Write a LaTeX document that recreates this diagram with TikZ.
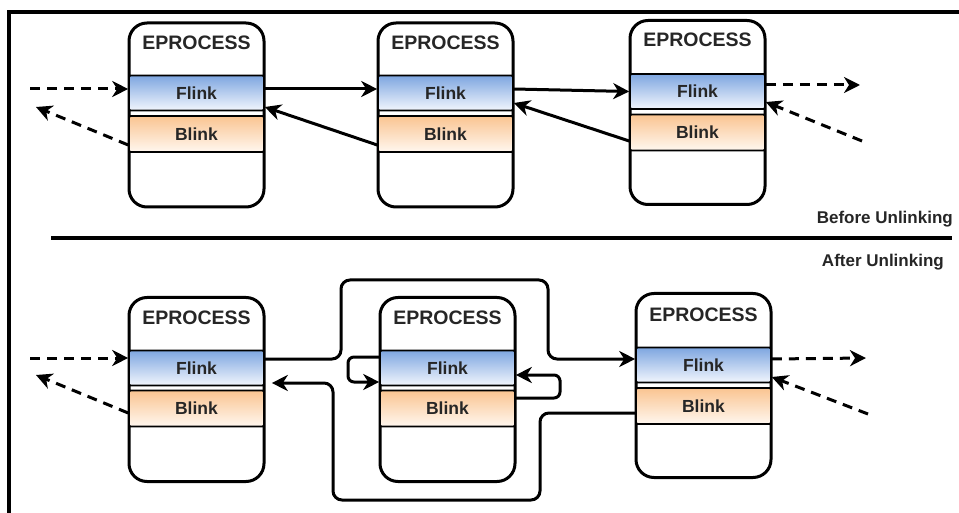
\documentclass[tikz,border=0pt]{standalone}
\usepackage{fontspec}
\setmainfont{Liberation Sans}
\usetikzlibrary{arrows.meta,calc}
\definecolor{txt}{HTML}{262626}
\definecolor{blueTop}{HTML}{7EA6E0}
\definecolor{blueBot}{HTML}{F2F6FD}
\definecolor{orTop}{HTML}{FAC491}
\definecolor{orBot}{HTML}{FFF7EF}
\tikzset{
  procbox/.style={draw, line width=3pt, rounded corners=18pt, minimum width=135pt, minimum height=184pt, inner sep=0pt, fill=white},
  ptitle/.style={font=\bfseries\fontsize{19.5}{21}\selectfont, text=txt, inner sep=0pt},
  fband/.style={draw, line width=1.6pt, rounded corners=1.5pt, minimum width=135pt, minimum height=35pt, inner sep=0pt, top color=blueTop, bottom color=blueBot, font=\bfseries\fontsize{17.5}{19}\selectfont, text=txt},
  bband/.style={draw, line width=1.6pt, rounded corners=1.5pt, minimum width=135pt, minimum height=36pt, inner sep=0pt, top color=orTop, bottom color=orBot, font=\bfseries\fontsize{17.5}{19}\selectfont, text=txt},
  tip/.style={-{Stealth[length=16pt,width=16pt,inset=5pt]}},
  link/.style={tip, line width=3pt},
  dlink/.style={tip, line width=3pt, dash pattern=on 10pt off 7pt},
  route/.style={link, rounded corners=9pt},
  caption/.style={font=\bfseries\fontsize{17}{19}\selectfont, text=txt, inner sep=0pt},
}
\begin{document}
\begin{tikzpicture}[x=1pt,y=-1pt]
\useasboundingbox (0,0) rectangle (959,513);
\fill[white] (0,0) rectangle (959,513);
% frame
\draw[line width=3.2pt] (9,513) -- (9,12) -- (959,12);
% separator
\draw[line width=3.2pt] (51,238) -- (952,238);
\node[caption, anchor=east] (before) at (953,219) {Before Unlinking};
\node[caption, anchor=east] (after) at (944,262) {After Unlinking};

% ---- top row ----
\node[procbox] (p1) at (196.5,115) {};
\node[procbox] (p2) at (445.5,115) {};
\node[procbox] (p3) at (697.5,112.5) {};
\node[ptitle] (t1) at (196.5,43) {EPROCESS};
\node[ptitle] (t2) at (445.5,43) {EPROCESS};
\node[ptitle] (t3) at (697.5,40) {EPROCESS};
\node[fband] (f1) at (196.5,93) {Flink};
\node[bband] (b1) at (196.5,134) {Blink};
\node[fband] (f2) at (445.5,93) {Flink};
\node[bband] (b2) at (445.5,134) {Blink};
\node[fband] (f3) at (697.5,91.5) {Flink};
\node[bband] (b3) at (697.5,132.5) {Blink};

\coordinate (inA) at (30,89);
\coordinate (outA) at (36,107);
\coordinate (outB) at (860,85);
\coordinate (inB) at (862,141);
\draw[dlink] (inA) -- ([yshift=4pt]f1.west);
\draw[dlink] ([yshift=-11pt]b1.west) -- (outA);
\draw[link] ([yshift=4pt]f1.east) -- ([yshift=4pt]f2.west);
\draw[link] ([yshift=-11pt]b2.west) -- ([yshift=-14pt]f1.east);
\draw[link] ([yshift=4pt]f2.east) -- ([yshift=0pt]f3.west);
\draw[link] ([yshift=-8.5pt]b3.west) -- ([yshift=-10pt]f2.east);
\draw[dlink] ([yshift=6.5pt]f3.east) -- (outB);
\draw[dlink] (inB) -- ([yshift=-10.5pt]f3.east);

% ---- bottom row ----
\node[procbox] (p4) at (196.5,389.5) {};
\node[procbox] (p5) at (447.5,389.5) {};
\node[procbox] (p6) at (703.5,385.5) {};
\node[ptitle] (t4) at (196.5,318) {EPROCESS};
\node[ptitle] (t5) at (447.5,318) {EPROCESS};
\node[ptitle] (t6) at (703.5,315) {EPROCESS};
\node[fband] (f4) at (196.5,368) {Flink};
\node[bband] (b4) at (196.5,408.5) {Blink};
\node[fband] (f5) at (447.5,368) {Flink};
\node[bband] (b5) at (447.5,408.5) {Blink};
\node[fband] (f6) at (703.5,365) {Flink};
\node[bband] (b6) at (703.5,406) {Blink};

\coordinate (inC) at (30,358);
\coordinate (outC) at (36,375);
\coordinate (outD) at (866,358);
\coordinate (inD) at (868,414);
\draw[dlink] (inC) -- ([yshift=10pt]f4.west);
\draw[dlink] ([yshift=-4.5pt]b4.west) -- (outC);
\draw[dlink] ([yshift=6pt]f6.east) -- (outD);
\draw[dlink] (inD) -- ([yshift=-12pt]f6.east);

\coordinate (r1) at (341,280);
\coordinate (r2) at (548,280);
\coordinate (r3) at (540,500);
\coordinate (r4) at (333,500);
\coordinate (l1) at (348,370);
\coordinate (l2) at (560,386);
\draw[route] ([yshift=9pt]f4.east) -| (r1) -- (r2) |- ([yshift=6pt]f6.west);
\draw[route, shorten >=7pt] ([yshift=-7pt]b6.west) -| (r3) -- (r4) |- ([yshift=-15pt]f4.east);
\draw[link, rounded corners=6pt] ([yshift=11pt]f5.west) -| (l1) |- ([yshift=-14pt]f5.west);
\draw[link, rounded corners=6pt] ([yshift=10.5pt]b5.east) -| (l2) |- ([yshift=-7pt]f5.east);
\end{tikzpicture}
\end{document}
